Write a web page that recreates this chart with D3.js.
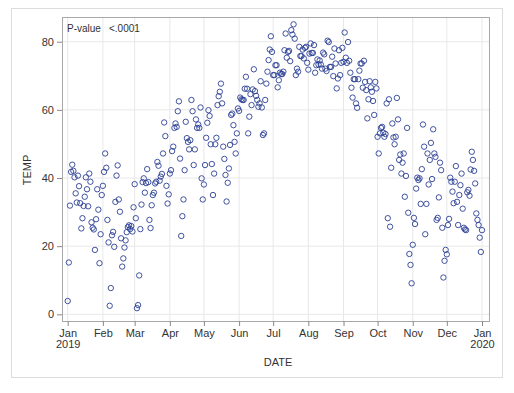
<!DOCTYPE html>
<html>
<head>
<meta charset="utf-8">
<script src="https://cdn.jsdelivr.net/npm/d3@7"></script>
<style>
  body { margin: 0; background: #fff; }
  text { font-family: "Liberation Sans", Arial, sans-serif; fill: #333; }
</style>
</head>
<body>
<script>
// daily temperatures, 2019-01-01 .. 2020-01-01
const startDate = "2019-01-01";
const temps = [
  3.9, 15.2, 31.9, 41.8, 43.9, 42.1, 40.2, 35.5, 32.8, 40.7, 37.6, 32.6, 25.2, 28.2, 31.8, 34.5,
  40.2, 36.7, 31.7, 41.3, 38.9, 27, 25.4, 24.9, 18.9, 27.9, 36.7, 30.7, 15, 23.5, 35, 37.7,
  41.8, 47.2, 43, 27.7, 21.1, 2.5, 7.7, 23.2, 24.2, 19.8, 33, 40.7, 43.7, 33.7, 30.1, 22.3,
  14, 16.4, 19.6, 21.7, 24.1, 25.6, 26.1, 25, 25.9, 24.3, 31.4,
  38.2, 28.2, 1.8, 2.7, 11.4, 25, 32.2, 38.8, 39.9, 35.7, 38.5, 42.6, 38.8, 27.7, 25.3, 32,
  35, 35.7, 38.4, 38.9, 44.7, 43.6, 39.2, 40.4, 41.2, 47.2, 56.3, 52.3, 37.7, 32.5, 35.2, 41.3,
  42.3, 47.9, 49.2, 54.7, 56, 55, 59.6, 62.5, 45.7, 23, 28.8, 33.7, 42.3, 56.5, 51.7, 50.6,
  48.4, 51.1, 62.9, 59.6, 43.8, 48.4, 57.2, 54.7, 55.7, 54.7, 60.7, 39.9, 33.7, 38.1,
  43.8, 51.8, 56.2, 59.9, 58.2, 49.9, 44.1, 35, 41.3, 49.9, 51.8, 61.4, 64, 65.3, 67.7, 61.9,
  49.2, 45.6, 40.9, 33.1, 38.6, 42.8, 49.7, 58.5, 58.9, 55.5, 50.6, 47.2, 53.1, 60.4,
  59.7, 63.6, 63.1, 62.9, 62.9, 66.2, 69.7, 66.2, 53.1, 58, 64.6, 61.4, 66, 71.9, 65.5, 64.1,
  62.9, 60.9, 61.9, 68.4, 60.7, 52.6, 53.1, 62.9, 67.7, 71.2, 74.6, 77.7, 81.6, 77,
  70.2, 70.2, 73.1, 73.1, 66.6, 68.7, 70.9, 70.5, 70.5, 71.2, 77.5, 82.4, 75.3, 77, 77.3, 74.3,
  83.4, 82.1, 85.1, 80.9, 70.2, 72.1, 71.2, 78.5, 75.8, 75.8, 77.7, 75.1, 78.2, 78.5, 73.8,
  71.8, 76.5, 79.5, 76.7, 76.7, 79, 70.9, 73.1, 74.8, 73.3, 74.5, 73.3, 72.1, 76.8, 76.3, 72.1,
  71.4, 80.3, 79.9, 72.6, 72.6, 75.6, 69.9, 78, 73.6, 66.3, 69.2, 77.5, 70.2, 73.8, 78.2,
  74.1, 82.7, 75.3, 73.8, 79.9, 74.4, 70.9, 66.5, 63.6, 69, 69, 61.9, 60.6, 69, 71.5, 73.6,
  73.6, 66.5, 74.4, 68.2, 65.8, 57.5, 63.1, 68.4, 66.6, 65.3, 62.6, 58.5, 68.2, 66.3,
  52.1, 47.2, 53.1, 54.7, 55, 53.3, 52.1, 52.9, 61.9, 28.2, 63.1, 25.7, 43, 56, 51.9, 49.9,
  52.1, 63.5, 57.2, 45.3, 46.9, 41.3, 44.5, 47.2, 34.5, 40.6, 54.7, 29.8, 17.7, 14.5, 9.1,
  20.4, 28.3, 26.5, 36.9, 40.1, 39.4, 39.9, 32.4, 42.6, 55.7, 49.2, 23.5, 32.4, 47.2, 38.1,
  45.3, 50.3, 39.7, 54.3, 47.2, 46.2, 27.7, 28.3, 34.3, 44.5, 42.3, 25.4, 10.8, 15.7, 18.9,
  17.6, 26.2, 28, 40.1, 38.9, 36, 32.6, 38.9, 43.5, 33, 26.2, 35, 37.9, 41.3, 31, 25.4,
  24.9, 24.7, 35.8, 36.5, 34.8, 42.5, 47.7, 45.3, 42.1, 38.4, 29.6, 27.7, 26.2, 22.5, 18.3,
  24.7
];
const yTicks = [0, 20, 40, 60, 80];
const pLabel = "P-value", pValue = "<.0001";

const W = 514, H = 393;
const frame = {left: 62, right: 489, top: 17, bottom: 321};

const parse = d3.timeParse("%Y-%m-%d");
const t0 = parse(startDate);
const data = temps.map((v, i) => ({date: d3.timeDay.offset(t0, i), temp: v}));

const x = d3.scaleTime()
  .domain([t0, parse("2020-01-01")])
  .range([67.7, 482]);
const y = d3.scaleLinear()
  .domain([0, 80])
  .range([314.3, 41.7]);

const svg = d3.select("body").append("svg")
  .attr("width", W)
  .attr("height", H);

// outer panel border
svg.append("rect")
  .attr("x", 11.5).attr("y", 8.5)
  .attr("width", 491).attr("height", 369)
  .attr("fill", "#fff")
  .attr("stroke", "#dcdcdc");

const months = d3.timeMonth.range(t0, d3.timeDay.offset(parse("2020-01-01"), 1));

// grid
const grid = svg.append("g");
grid.selectAll("line.gy")
  .data(yTicks).enter().append("line")
  .attr("x1", frame.left).attr("x2", frame.right)
  .attr("y1", d => y(d)).attr("y2", d => y(d))
  .attr("stroke", "#e8e8e8");
grid.selectAll("line.gx")
  .data(months).enter().append("line")
  .attr("x1", d => x(d)).attr("x2", d => x(d))
  .attr("y1", frame.top).attr("y2", frame.bottom)
  .attr("stroke", "#e8e8e8");

// frame
svg.append("rect")
  .attr("x", frame.left + 0.5).attr("y", frame.top + 0.5)
  .attr("width", frame.right - frame.left).attr("height", frame.bottom - frame.top)
  .attr("fill", "none")
  .attr("stroke", "#a8a8a8");

// y axis
const yAxis = svg.append("g")
  .attr("transform", `translate(${frame.left},0)`)
  .call(d3.axisLeft(y).tickValues(yTicks).tickSize(5).tickPadding(3));
yAxis.select(".domain").remove();
yAxis.selectAll("line").attr("stroke", "#888");
yAxis.selectAll("text").attr("font-size", 11).attr("fill", "#333");

// x axis
const xAxis = svg.append("g")
  .attr("transform", `translate(0,${frame.bottom})`)
  .call(d3.axisBottom(x).tickValues(months).tickSize(5).tickFormat(d3.timeFormat("%b")));
xAxis.select(".domain").remove();
xAxis.selectAll("line").attr("stroke", "#888");
xAxis.selectAll("text")
  .attr("font-size", 11).attr("fill", "#333")
  .attr("y", 8).attr("dy", "0.71em");
xAxis.selectAll(".tick")
  .filter(d => d.getMonth() === 0)
  .append("text")
  .attr("y", 19).attr("dy", "0.71em")
  .attr("text-anchor", "middle")
  .attr("font-size", 11).attr("fill", "#333")
  .text(d => d.getFullYear());

// axis titles
svg.append("text")
  .attr("x", 278).attr("y", 366)
  .attr("text-anchor", "middle")
  .attr("font-size", 11)
  .text("DATE");
svg.append("text")
  .attr("transform", "translate(31,170) rotate(-90)")
  .attr("text-anchor", "middle")
  .attr("font-size", 11)
  .text("TEMP");

// inset p-value
svg.append("text").attr("x", 67).attr("y", 32).attr("font-size", 10).text(pLabel);
svg.append("text").attr("x", 109).attr("y", 32).attr("font-size", 10).text(pValue);

// points
svg.append("g")
  .selectAll("circle")
  .data(data).enter().append("circle")
  .attr("cx", d => x(d.date))
  .attr("cy", d => y(d.temp))
  .attr("r", 2.7)
  .attr("fill", "none")
  .attr("stroke", "#2b3f94")
  .attr("stroke-width", 0.9);
</script>
</body>
</html>
